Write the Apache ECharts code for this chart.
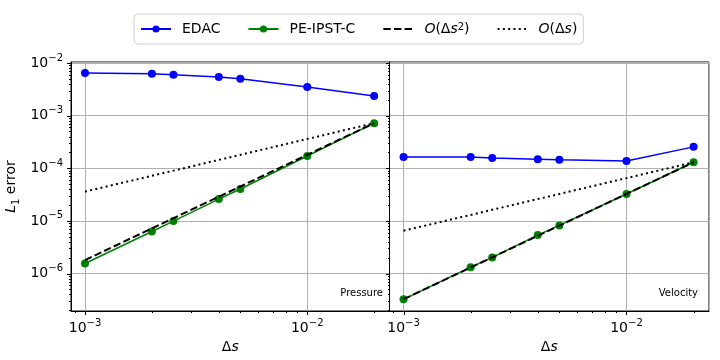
<!DOCTYPE html>
<html lang="en">
<head>
<meta charset="UTF-8" />
<title>L1 error convergence</title>
<script src="https://cdn.jsdelivr.net/npm/echarts@6.0.0/dist/echarts.min.js"></script>
<style>
  body { margin: 0; padding: 0; background: #fff; }
  #chart { width: 720px; height: 360px; }
</style>
</head>
<body>
<div id="chart"></div>
<script>
var ds = [0.001, 0.002, 0.0025, 0.004, 0.005, 0.01, 0.02];

// pressure panel
var pressureEdac = [6.45e-3, 6.25e-3, 5.98e-3, 5.41e-3, 5.02e-3, 3.49e-3, 2.35e-3];
var pressurePe = [1.55e-6, 6.3e-6, 9.9e-6, 2.6e-5, 4.04e-5, 1.71e-4, 7.2e-4];
var pressureOrder2 = [[0.001, 1.8e-6], [0.02, 7.2e-4]];
var pressureOrder1 = [[0.001, 3.6e-5], [0.02, 7.2e-4]];

// velocity panel
var velocityEdac = [1.64e-4, 1.63e-4, 1.56e-4, 1.49e-4, 1.45e-4, 1.38e-4, 2.55e-4];
var velocityPe = [3.23e-7, 1.32e-6, 2.02e-6, 5.37e-6, 8.2e-6, 3.24e-5, 1.30e-4];
var velocityOrder2 = [[0.001, 3.25e-7], [0.02, 1.3e-4]];
var velocityOrder1 = [[0.001, 6.5e-6], [0.02, 1.3e-4]];

var xMajor = [1e-3, 1e-2];
var xMinor = [9e-4, 2e-3, 3e-3, 4e-3, 5e-3, 6e-3, 7e-3, 8e-3, 9e-3, 2e-2];
var yMajor = [1e-6, 1e-5, 1e-4, 1e-3, 1e-2];

var X_MIN = 8.65e-4, X_MAX = 2.345e-2;
var Y_MIN = 1.94e-7, Y_MAX = 1.045e-2;
var FONT = 'DejaVu Sans';

var yMinor = [];
for (var e = -7; e <= -3; e++) {
  for (var m = 2; m <= 9; m++) {
    var v = m * Math.pow(10, e);
    if (v > Y_MIN && v < Y_MAX) yMinor.push(v);
  }
}

function pairs(xs, ys) {
  return xs.map(function (x, i) { return [x, ys[i]]; });
}

var supRich = {
  b: { fontFamily: FONT, fontSize: 14, color: '#000', lineHeight: 20 },
  sup: { fontFamily: FONT, fontSize: 10, color: '#000', lineHeight: 12, verticalAlign: 'top' }
};

function powLabel(v) {
  var lg = Math.log10(v);
  var ex = Math.round(lg);
  if (Math.abs(lg - ex) > 1e-6) return '';
  return '{b|10}{sup|' + (ex < 0 ? '\u2212' : '') + Math.abs(ex) + '}';
}

function tickData(vals, len) {
  return vals.map(function (v) { return [v, len]; });
}

// major and minor ticks, drawn outward like the log axes in the source plot
function tickSeries(gi, axis, data) {
  return {
    type: 'custom',
    xAxisIndex: gi,
    yAxisIndex: gi,
    silent: true,
    clip: false,
    z: 6,
    data: data,
    renderItem: function (params, api) {
      var v = api.value(0), len = api.value(1);
      var p, shape;
      if (axis === 'x') {
        p = api.coord([v, Y_MIN]);
        var x = Math.round(p[0]) + 0.5, y = Math.round(p[1]);
        shape = { x1: x, y1: y, x2: x, y2: y + len };
      } else {
        p = api.coord([X_MIN, v]);
        var px = Math.round(p[0]), py = Math.round(p[1]) + 0.5;
        shape = { x1: px, y1: py, x2: px - len, y2: py };
      }
      return { type: 'line', shape: shape, style: { stroke: '#000', lineWidth: 1 } };
    }
  };
}

function xAxisOpt(gi) {
  return {
    type: 'log', logBase: 10, gridIndex: gi, min: X_MIN, max: X_MAX,
    axisLine: { show: true, lineStyle: { color: '#000', width: 1 } },
    axisTick: { show: false },
    axisLabel: { formatter: powLabel, rich: supRich, margin: 7 },
    splitLine: { show: true, lineStyle: { color: '#b0b0b0', width: 1 } },
    name: '\u0394{i|s}',
    nameLocation: 'middle',
    nameGap: 28,
    nameTextStyle: {
      fontFamily: FONT, fontSize: 14, color: '#000',
      rich: { i: { fontFamily: FONT, fontSize: 14, fontStyle: 'italic', color: '#000' } }
    }
  };
}

function yAxisOpt(gi) {
  var o = {
    type: 'log', logBase: 10, gridIndex: gi, min: Y_MIN, max: Y_MAX,
    axisLine: { show: true, lineStyle: { color: '#000', width: 1 } },
    axisTick: { show: false },
    axisLabel: { show: gi === 0, formatter: powLabel, rich: supRich, margin: 8 },
    splitLine: { show: true, lineStyle: { color: '#b0b0b0', width: 1 } }
  };
  if (gi === 0) {
    o.name = '{i|L}{sub|1} error';
    o.nameLocation = 'middle';
    o.nameGap = 50;
    o.nameTextStyle = {
      fontFamily: FONT, fontSize: 14, color: '#000',
      rich: {
        i: { fontFamily: FONT, fontSize: 14, fontStyle: 'italic', color: '#000', lineHeight: 20 },
        sub: { fontFamily: FONT, fontSize: 10, color: '#000', lineHeight: 12, verticalAlign: 'bottom' }
      }
    };
  }
  return o;
}

function lineSeries(name, gi, data, color) {
  return {
    name: name, type: 'line', xAxisIndex: gi, yAxisIndex: gi, data: data,
    symbol: 'circle', symbolSize: 8, color: color,
    lineStyle: { color: color, width: 1.5 },
    itemStyle: { color: color },
    z: 3
  };
}

var NAME_O2 = 'O(\u0394s\u00b2)', NAME_O1 = 'O(\u0394s)';

function refSeries(name, gi, data, dash, z) {
  return {
    name: name, type: 'line', xAxisIndex: gi, yAxisIndex: gi, data: data,
    symbol: 'none', color: '#000',
    lineStyle: { color: '#000', width: 2, type: dash },
    z: z
  };
}

var series = [];
[[pressureEdac, pressurePe, pressureOrder2, pressureOrder1],
 [velocityEdac, velocityPe, velocityOrder2, velocityOrder1]].forEach(function (set, gi) {
  series.push(lineSeries('EDAC', gi, pairs(ds, set[0]), '#0000ff'));
  series.push(lineSeries('PE-IPST-C', gi, pairs(ds, set[1]), '#008000'));
  series.push(refSeries(NAME_O2, gi, set[2], [7.4, 3.2], 4));
  series.push(refSeries(NAME_O1, gi, set[3], [2, 3.3], 5));
  series.push(tickSeries(gi, 'x', tickData(xMajor, 4).concat(tickData(xMinor, 2))));
  series.push(tickSeries(gi, 'y', tickData(yMajor, 4).concat(tickData(yMinor, 2))));
});

var hiddenDot = { color: 'rgba(0,0,0,0)', borderWidth: 0, opacity: 0 };

var chart = echarts.init(document.getElementById('chart'));
chart.setOption({
  animation: false,
  backgroundColor: '#fff',
  grid: [
    { left: 71, top: 62, width: 318.5, height: 249, show: true, borderColor: '#000', borderWidth: 1, containLabel: false },
    { left: 389.5, top: 62, width: 319.5, height: 249, show: true, borderColor: '#000', borderWidth: 1, containLabel: false }
  ],
  xAxis: [xAxisOpt(0), xAxisOpt(1)],
  yAxis: [yAxisOpt(0), yAxisOpt(1)],
  legend: {
    data: [
      'EDAC',
      'PE-IPST-C',
      { name: NAME_O2, itemStyle: hiddenDot },
      { name: NAME_O1, itemStyle: hiddenDot }
    ],
    left: 134, top: 14,
    padding: [8, 6],
    itemGap: 27, itemWidth: 30, itemHeight: 9,
    borderColor: '#d0d0d0', borderWidth: 1, borderRadius: 4,
    textStyle: {
      fontFamily: FONT, fontSize: 14, color: '#000', padding: [0, 0, 0, 6], lineHeight: 14,
      rich: {
        t: { fontFamily: FONT, fontSize: 14, color: '#000' },
        i: { fontFamily: FONT, fontSize: 14, fontStyle: 'italic', color: '#000' },
        sup: { fontFamily: FONT, fontSize: 10, color: '#000', verticalAlign: 'top', lineHeight: 10 }
      }
    },
    formatter: function (name) {
      if (name === NAME_O2) return '{i|O}{t|(\u0394}{i|s}{sup|2}{t|)}';
      if (name === NAME_O1) return '{i|O}{t|(\u0394}{i|s}{t|)}';
      return name;
    }
  },
  graphic: [
    { type: 'text', right: 720 - 383, top: 288, style: { text: 'Pressure', fontFamily: FONT, fontSize: 10, fill: '#000' } },
    { type: 'text', right: 720 - 698, top: 288, style: { text: 'Velocity', fontFamily: FONT, fontSize: 10, fill: '#000' } }
  ],
  series: series
});
</script>
</body>
</html>
